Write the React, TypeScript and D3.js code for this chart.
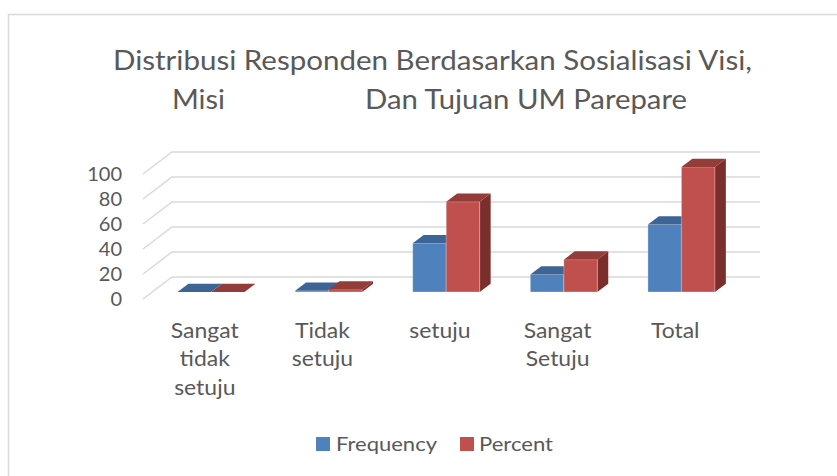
import React from "react"
import * as d3 from "d3"

// data
const categories = ["Sangat tidak setuju", "Tidak setuju", "setuju", "Sangat Setuju", "Total"]
const categoryLines = [["Sangat", "tidak", "setuju"], ["Tidak", "setuju"], ["setuju"], ["Sangat", "Setuju"], ["Total"]]
const seriesNames = ["Frequency", "Percent"]
const frequency = [0, 1, 39, 14, 54]
const percent = [0, 1.9, 72.2, 25.9, 100]
const yTicks = [0, 20, 40, 60, 80, 100]

const seriesValues = [frequency, percent]
const frontColors = ["#4F81BD", "#C0504D"]
const topColors = ["#3C6595", "#933C3A"]
const sideColors = ["#34587F", "#7B2F2D"]

const W = 837
const H = 476
const FONT = "Lato, 'Open Sans', sans-serif"
const TEXT = "#595959"

// oblique 3d: floor front edge and depth vector
const floorLeft = 143
const floorRight = 731
const floorY = 299
const depthX = 29
const depthY = -22
const barFront = 0.318
const barBack = 0.695

export default function App() {
    const x0 = d3.scaleBand().domain(categories).range([floorLeft, floorRight]).padding(0)
    const step = x0.bandwidth()
    const groupW = 67
    const x1 = d3
        .scaleBand()
        .domain(seriesNames)
        .range([(step - groupW) / 2, (step + groupW) / 2])
        .padding(0)
    const y = d3.scaleLinear().domain([0, 100]).range([0, 125])

    const P = (x: number, v: number, d: number) =>
        [x + d * depthX, floorY - y(v) + d * depthY].join(",")

    const bars: JSX.Element[] = []
    categories.forEach((c, i) => {
        seriesNames.forEach((s, j) => {
            const v = seriesValues[j][i]
            const xl = (x0(c) as number) + (x1(s) as number)
            const xr = xl + x1.bandwidth()
            const key = `${i}-${j}`
            bars.push(
                <g key={key}>
                    <polygon
                        points={[P(xr, v, barFront), P(xr, v, barBack), P(xr, 0, barBack), P(xr, 0, barFront)].join(" ")}
                        fill={sideColors[j]}
                    />
                    <polygon
                        points={[P(xl, v, barFront), P(xr, v, barFront), P(xr, 0, barFront), P(xl, 0, barFront)].join(" ")}
                        fill={frontColors[j]}
                        stroke="#ffffff"
                        strokeOpacity={0.3}
                        strokeWidth={1}
                    />
                    <polygon
                        points={[P(xl, v, barFront), P(xr, v, barFront), P(xr, v, barBack), P(xl, v, barBack)].join(" ")}
                        fill={topColors[j]}
                    />
                </g>
            )
        })
    })

    return (
        <svg width={W} height={H} style={{ position: "absolute", left: 0, top: 0, background: "#fff" }} fontFamily={FONT}>
            <rect x={8.5} y={14.5} width={840} height={470} fill="#fff" stroke="#D9D9D9" strokeWidth={1.5} />

            <text x={432.5} y={70} textAnchor="middle" fontSize={26} fill={TEXT} textLength={639} lengthAdjust="spacingAndGlyphs">
                Distribusi Responden Berdasarkan Sosialisasi Visi,
            </text>
            <text x={172} y={109} fontSize={26} fill={TEXT} textLength={53} lengthAdjust="spacingAndGlyphs">
                Misi
            </text>
            <text x={365} y={109} fontSize={26} fill={TEXT} textLength={322} lengthAdjust="spacingAndGlyphs">
                Dan Tujuan UM Parepare
            </text>

            {yTicks.map(t => (
                <g key={t}>
                    <polyline
                        points={[P(floorLeft, t, 0), P(floorLeft, t, 1), P(floorRight, t, 1)].join(" ")}
                        fill="none"
                        stroke="#D9D9D9"
                        strokeWidth={1.5}
                    />
                    <text x={122} y={floorY - y(t)} dy="0.35em" textAnchor="end" fontSize={20} fill={TEXT}>
                        {t}
                    </text>
                </g>
            ))}

            {bars}

            {categories.map((c, i) => {
                const cx = (x0(c) as number) + step / 2 + 3
                return (
                    <text
                        key={c}
                        textAnchor="middle"
                        fontSize={20.5}
                        fill={TEXT}
                        transform={`translate(${cx},0) scale(1.12,1) translate(${-cx},0)`}
                    >
                        {categoryLines[i].map((ln, k) => (
                            <tspan key={k} x={cx} y={338 + k * 28.5}>
                                {ln}
                            </tspan>
                        ))}
                    </text>
                )
            })}

            <g>
                <rect x={316} y={437} width={14} height={14} fill={frontColors[0]} />
                <text x={336} y={451} fontSize={19.5} fill={TEXT} textLength={101} lengthAdjust="spacingAndGlyphs">
                    {seriesNames[0]}
                </text>
                <rect x={460} y={437} width={14} height={14} fill={frontColors[1]} />
                <text x={479} y={451} fontSize={19.5} fill={TEXT} textLength={74} lengthAdjust="spacingAndGlyphs">
                    {seriesNames[1]}
                </text>
            </g>
        </svg>
    )
}
